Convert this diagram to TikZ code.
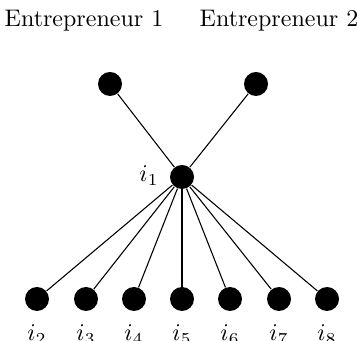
\documentclass[tikz,border=0pt]{standalone}
\begin{document}
\begin{tikzpicture}[x=0.4167pt,y=-0.4167pt,
  dot/.style={circle,fill=black,inner sep=0pt,minimum size=10pt},
  lbl/.style={anchor=base,inner sep=0pt},
  edge/.style={line width=0.45pt}]
\useasboundingbox (0,0) rectangle (358,341);
\node[dot] (e1) at (110,84) {};
\node[dot] (e2) at (256,84) {};
\node[dot] (c) at (182,177) {};
\node[lbl] (le1) at (84,27) {Entrepreneur 1};
\node[lbl] (le2) at (279,27) {Entrepreneur 2};
\node[lbl] (l1) at (149,182) {$i_1$};
\foreach \k/\x in {2/37,3/86,4/134,5/182,6/230,7/279,8/327}{
  \node[dot] (n\k) at (\x,299) {};
  \node[lbl] (l\k) at (\x,341) {$i_{\k}$};
  \draw[edge] (c) -- (n\k);
}
\draw[edge] (c) -- (e1);
\draw[edge] (c) -- (e2);
\end{tikzpicture}
\end{document}
